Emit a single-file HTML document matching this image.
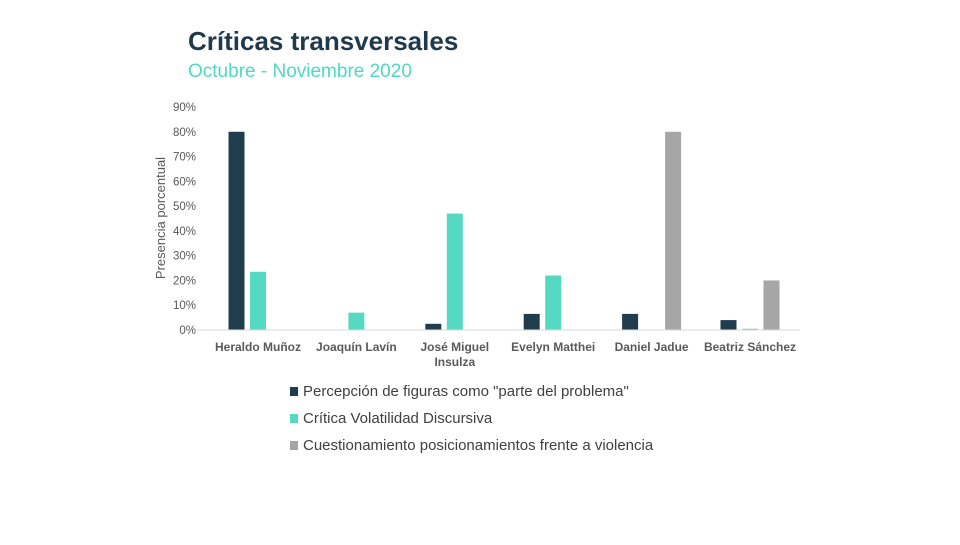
<!DOCTYPE html>
<html><head><meta charset="utf-8"><style>
body{margin:0;background:#fff;width:960px;height:540px;overflow:hidden;font-family:"Liberation Sans",sans-serif}
</style></head><body>
<svg width="960" height="540">
<text x="188" y="50" font-size="26" font-weight="bold" fill="#1f3a4b">Críticas transversales</text>
<text x="188" y="77" font-size="19" fill="#4fd8c4">Octubre - Noviembre 2020</text>
<text transform="translate(165,218) rotate(-90)" text-anchor="middle" font-size="13" fill="#595959">Presencia porcentual</text>
<g id="yt"></g><g id="bars"></g><g id="xl"></g>
<line x1="197" y1="330" x2="800" y2="330" stroke="#d9d9d9"/>
<g id="legend"></g>
</svg>
<script>
const categories=["Heraldo Muñoz","Joaquín Lavín","José Miguel|Insulza","Evelyn Matthei","Daniel Jadue","Beatriz Sánchez"];
const seriesProblema=[80,0,2.5,6.5,6.5,4];
const seriesVolatilidad=[23.5,7,47,22,0,0.5];
const seriesViolencia=[0,0,0,0,80,20];
const seriesNames=['Percepción de figuras como "parte del problema"','Crítica Volatilidad Discursiva','Cuestionamiento posicionamientos frente a violencia'];
const yTicks=[0,10,20,30,40,50,60,70,80,90];
const colors=["#1f3d4d","#56d9c3","#a6a6a6"];
const NS="http://www.w3.org/2000/svg";
const y0=330,ppu=(330-107)/90,firstCenter=258,gw=98.4,bw=16,gap=5.5;
const ys=v=>y0-v*ppu;
function mk(t,a,p){const e=document.createElementNS(NS,t);for(const k in a)e.setAttribute(k,a[k]);p.appendChild(e);return e;}
const yt=document.getElementById('yt');
yTicks.forEach(v=>{const t=mk('text',{x:196,y:ys(v)+4,'text-anchor':'end','font-size':11.5,fill:'#595959'},yt);t.textContent=v+'%';

});
const bars=document.getElementById('bars'),xl=document.getElementById('xl');
const all=[seriesProblema,seriesVolatilidad,seriesViolencia];
categories.forEach((c,i)=>{const cx=firstCenter+gw*i;
all.forEach((s,j)=>{if(s[i]<=0)return;const x=cx+(j-1)*(bw+gap)-bw/2;
const r=mk('rect',{x:x,y:ys(s[i]),width:bw,height:y0-ys(s[i]),fill:colors[j]},bars);

});
c.split('|').forEach((ln,k)=>{const t=mk('text',{x:cx,y:351+k*15,'text-anchor':'middle','font-size':12,'font-weight':'bold',fill:'#595959'},xl);t.textContent=ln;

});});
const lg=document.getElementById('legend');
seriesNames.forEach((n,j)=>{const y=392+j*27;
const g=mk('g',{},lg);


mk('rect',{x:290,y:y-5,width:8,height:9,fill:colors[j]},g);
const t=mk('text',{x:303,y:y+4,'font-size':15,fill:'#404040'},g);t.textContent=n;});
</script>
</body></html>
